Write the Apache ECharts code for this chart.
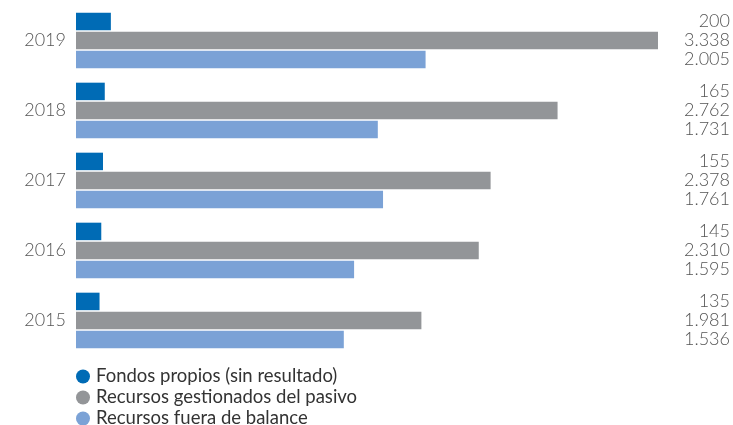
<!DOCTYPE html>
<html>
<head>
<meta charset="utf-8">
<script src="https://cdn.jsdelivr.net/npm/echarts@6/dist/echarts.min.js"></script>
<style>
  html, body { margin: 0; padding: 0; background: #fff; }
  #chart { width: 733px; height: 425px; }
</style>
</head>
<body>
<div id="chart"></div>
<script>
// Years, top to bottom
const years = ['2019', '2018', '2017', '2016', '2015'];
// Values in millions of euros
const fondosPropios = [200, 165, 155, 145, 135];
const recursosPasivo = [3338, 2762, 2378, 2310, 1981];
const recursosFuera = [2005, 1731, 1761, 1595, 1536];

const seriesNames = [
  'Fondos propios (sin resultado)',
  'Recursos gestionados del pasivo',
  'Recursos fuera de balance'
];
const colors = ['#006BB5', '#939598', '#7BA2D6'];

const AXIS_MAX = 3751;
const FONT = 'Lato, "Open Sans", sans-serif';

// Spanish-style thousands separator
function fmt(v) {
  return String(v).replace(/\B(?=(\d{3})+(?!\d))/g, '.');
}

const seriesData = [fondosPropios, recursosPasivo, recursosFuera];
const series = [];
seriesData.forEach(function (values, i) {
  // visible bar
  series.push({
    name: seriesNames[i],
    type: 'bar',
    stack: 's' + i,
    barWidth: 17.5,
    barGap: '9%',
    data: values,
    itemStyle: { color: colors[i] },
    emphasis: { disabled: true }
  });
  // transparent remainder carrying the right-aligned value label
  series.push({
    name: seriesNames[i] + ' valor',
    type: 'bar',
    stack: 's' + i,
    barWidth: 17.5,
    barGap: '9%',
    data: values.map(function (v) { return AXIS_MAX - v; }),
    itemStyle: { color: 'rgba(0,0,0,0)' },
    silent: true,
    label: {
      show: true,
      position: 'insideRight',
      distance: 0,
      color: '#555',
      fontFamily: FONT,
      fontWeight: 300,
      fontSize: 18,
      formatter: function (p) { return fmt(values[p.dataIndex]); }
    },
    emphasis: { disabled: true }
  });
});

// one legend row per series, stacked vertically
const legends = seriesNames.map(function (name, i) {
  return {
    data: [name],
    orient: 'horizontal',
    left: 76,
    top: 367 + i * 21,
    icon: 'circle',
    itemWidth: 14,
    itemHeight: 14,
    itemGap: 0,
    padding: 0,
    selectedMode: false,
    textStyle: {
      color: '#333',
      fontFamily: FONT,
      fontSize: 18.5,
      padding: [0, 0, 0, 1]
    }
  };
});

const chart = echarts.init(document.getElementById('chart'), null, { renderer: 'canvas' });
chart.setOption({
  animation: false,
  backgroundColor: '#fff',
  grid: { left: 76, right: 3, top: 5.5, height: 350, containLabel: false },
  xAxis: {
    type: 'value',
    min: 0,
    max: AXIS_MAX,
    show: false
  },
  yAxis: {
    type: 'category',
    data: years,
    inverse: true,
    axisLine: { show: false },
    axisTick: { show: false },
    splitLine: { show: false },
    axisLabel: {
      margin: 10,
      color: '#555',
      fontFamily: FONT,
      fontWeight: 300,
      fontSize: 18
    }
  },
  legend: legends,
  series: series
});
</script>
</body>
</html>
